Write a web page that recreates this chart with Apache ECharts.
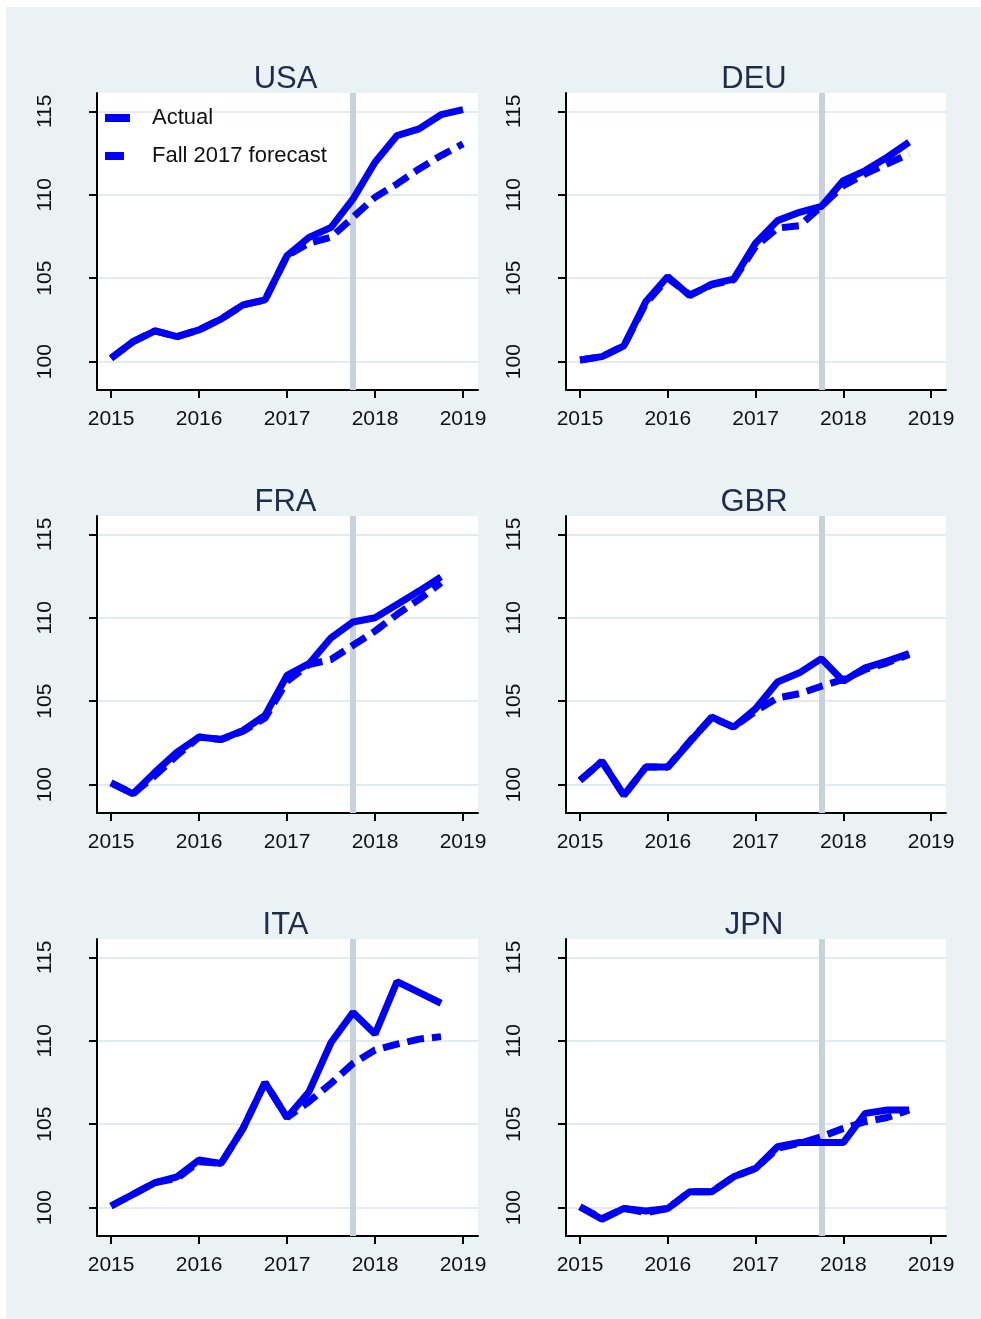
<!DOCTYPE html>
<html>
<head>
<meta charset="utf-8">
<script src="https://cdn.jsdelivr.net/npm/echarts@6.0.0/dist/echarts.min.js"></script>
<style>
  html, body { margin: 0; padding: 0; background: #fff; }
  #bg { position: absolute; left: 6px; top: 7px; width: 975px; height: 1312px; background: #eaf2f3; }
  #chart { position: absolute; left: 0; top: 0; width: 981px; height: 1319px; }
</style>
</head>
<body>
<div id="bg"></div>
<div id="chart"></div>
<script>
// quarterly index, 2015Q1 = 100
const quarters = [2015, 2015.25, 2015.5, 2015.75, 2016, 2016.25, 2016.5, 2016.75,
  2017, 2017.25, 2017.5, 2017.75, 2018, 2018.25, 2018.5, 2018.75, 2019]
const xTicks = [2015, 2016, 2017, 2018, 2019]
const yTicks = [100, 105, 110, 115]
const forecastDate = 2017.75

const usaActual = [100.2, 101.2, 101.85, 101.5, 101.9, 102.55, 103.4, 103.7, 106.35, 107.45, 108.05, 109.75, 111.95, 113.55, 113.95, 114.8, 115.1]
const usaForecast = [100.2, 101.2, 101.85, 101.5, 101.9, 102.55, 103.4, 103.7, 106.35, 107.1, 107.45, 108.65, 109.85, 110.65, 111.55, 112.35, 113.05]
const deuActual = [100.1, 100.3, 100.95, 103.6, 105.1, 103.95, 104.65, 104.95, 107.1, 108.45, 108.95, 109.3, 110.85, 111.45, 112.25, 113.15]
const deuForecast = [100.1, 100.3, 100.95, 103.5, 105.0, 104.0, 104.6, 104.9, 106.9, 108.0, 108.15, 109.3, 110.55, 111.25, 111.85, 112.45]
const fraActual = [100.1, 99.45, 100.75, 101.95, 102.85, 102.7, 103.25, 104.15, 106.55, 107.25, 108.8, 109.75, 110.0, 110.8, 111.6, 112.45]
const fraForecast = [100.1, 99.45, 100.55, 101.75, 102.85, 102.7, 103.2, 104.0, 106.2, 107.2, 107.5, 108.35, 109.2, 110.2, 111.1, 112.1]
const gbrActual = [100.25, 101.4, 99.35, 101.05, 101.05, 102.55, 104.05, 103.45, 104.55, 106.15, 106.7, 107.55, 106.2, 107.0, 107.4, 107.85]
const gbrForecast = [100.25, 101.4, 99.35, 101.05, 101.05, 102.6, 104.0, 103.45, 104.4, 105.2, 105.45, 105.9, 106.3, 106.9, 107.3, 107.8]
const itaActual = [100.1, 100.8, 101.5, 101.85, 102.85, 102.65, 104.75, 107.5, 105.4, 106.95, 109.9, 111.7, 110.4, 113.55, 112.9, 112.25]
const itaForecast = [100.1, 100.8, 101.5, 101.75, 102.75, 102.65, 104.75, 107.5, 105.4, 106.35, 107.45, 108.65, 109.45, 109.8, 110.1, 110.25]
const jpnActual = [100.05, 99.3, 99.95, 99.8, 99.95, 100.95, 100.95, 101.85, 102.35, 103.65, 103.9, 103.9, 103.9, 105.65, 105.85, 105.85]
const jpnForecast = [100.05, 99.35, 99.95, 99.7, 99.95, 100.95, 100.95, 101.85, 102.35, 103.55, 103.85, 104.25, 104.75, 105.15, 105.4, 105.85]

const panels = [
  { name: 'USA', actual: usaActual, forecast: usaForecast },
  { name: 'DEU', actual: deuActual, forecast: deuForecast },
  { name: 'FRA', actual: fraActual, forecast: fraForecast },
  { name: 'GBR', actual: gbrActual, forecast: gbrForecast },
  { name: 'ITA', actual: itaActual, forecast: itaForecast },
  { name: 'JPN', actual: jpnActual, forecast: jpnForecast }
]

const font = "'Liberation Sans', Arial, sans-serif"
const blue = '#0000f5'
const colLeft = [97, 566]
const colWidth = [381, 380]
const rowTop = [93, 516, 939]
const plotHeight = 297

const toPoints = (values) => values.map((v, i) => [quarters[i], v])

const grids = []
const xAxes = []
const yAxes = []
const titles = []
const series = []

panels.forEach((p, i) => {
  const col = i % 2
  const row = Math.floor(i / 2)
  grids.push({
    left: colLeft[col],
    top: rowTop[row],
    width: colWidth[col],
    height: plotHeight,
    show: true,
    backgroundColor: '#fff',
    borderWidth: 0
  })
  titles.push({
    text: p.name,
    left: colLeft[col] + colWidth[col] / 2 - 2,
    top: rowTop[row] - 31,
    textAlign: 'center',
    padding: 0,
    textStyle: { fontFamily: font, fontSize: 31, fontWeight: 'normal', color: '#1f2d4d', lineHeight: 34 }
  })
  xAxes.push({
    gridIndex: i,
    type: 'value',
    min: 2014.84,
    max: 2019.17,
    axisLine: { show: true, onZero: false, lineStyle: { color: '#000', width: 2 } },
    axisTick: { show: true, length: 8, lineStyle: { color: '#000', width: 2 }, customValues: xTicks },
    axisLabel: {
      customValues: xTicks,
      formatter: (v) => String(v),
      margin: 19,
      fontSize: 21,
      color: '#111',
      fontFamily: font
    },
    splitLine: { show: false }
  })
  yAxes.push({
    gridIndex: i,
    type: 'value',
    min: 98.3,
    max: 116.1,
    axisLine: { show: true, onZero: false, lineStyle: { color: '#000', width: 2 } },
    axisTick: { show: true, length: 8, lineStyle: { color: '#000', width: 2 }, customValues: yTicks },
    axisLabel: { customValues: yTicks, rotate: 90, margin: 41, fontSize: 21, color: '#111', fontFamily: font },
    splitLine: { show: true, lineStyle: { color: '#e3ebef', width: 2 } }
  })
  series.push({
    name: 'Actual',
    type: 'line',
    xAxisIndex: i,
    yAxisIndex: i,
    data: toPoints(p.actual),
    symbol: 'none',
    z: 3,
    lineStyle: { color: blue, width: 7 },
    itemStyle: { color: blue },
    markLine: {
      z: 1,
      silent: true,
      symbol: ['none', 'none'],
      label: { show: false },
      lineStyle: { color: '#c8d2dd', width: 6, type: 'solid' },
      data: [{ xAxis: forecastDate }]
    }
  })
  series.push({
    name: 'Fall 2017 forecast',
    type: 'line',
    xAxisIndex: i,
    yAxisIndex: i,
    data: toPoints(p.forecast),
    symbol: 'none',
    z: 4,
    lineStyle: { color: blue, width: 7, type: [17, 8] },
    itemStyle: { color: blue }
  })
})

const legendText = { fontFamily: font, fontSize: 22, color: '#111' }

const chart = echarts.init(document.getElementById('chart'))
chart.setOption({
  animation: false,
  title: titles,
  grid: grids,
  xAxis: xAxes,
  yAxis: yAxes,
  legend: [
    {
      data: ['Actual'],
      left: 105,
      top: 107,
      padding: 0,
      icon: 'rect',
      itemWidth: 25,
      itemHeight: 8,
      itemStyle: { borderWidth: 0 },
      textStyle: Object.assign({ padding: [0, 0, 0, 17] }, legendText)
    },
    {
      data: ['Fall 2017 forecast'],
      left: 105,
      top: 145,
      padding: 0,
      icon: 'rect',
      itemWidth: 19,
      itemHeight: 8,
      itemStyle: { borderWidth: 0 },
      textStyle: Object.assign({ padding: [0, 0, 0, 23] }, legendText)
    }
  ],
  series: series
})
</script>
</body>
</html>
